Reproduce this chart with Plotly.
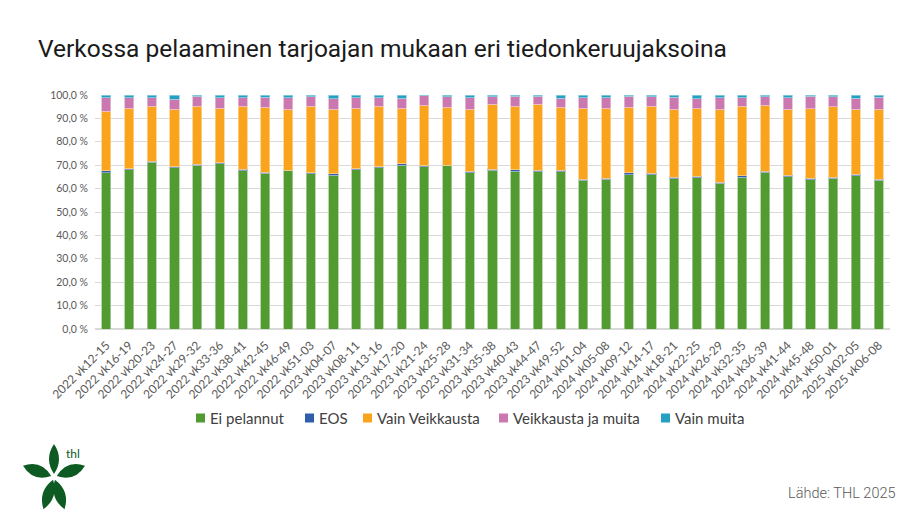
import plotly.graph_objects as go
import math

categories = [
    "2022 vk12-15", "2022 vk16-19", "2022 vk20-23", "2022 vk24-27", "2022 vk29-32",
    "2022 vk33-36", "2022 vk38-41", "2022 vk42-45", "2022 vk46-49", "2022 vk51-03",
    "2023 vk04-07", "2023 vk08-11", "2023 vk13-16", "2023 vk17-20", "2023 vk21-24",
    "2023 vk25-28", "2023 vk31-34", "2023 vk35-38", "2023 vk40-43", "2023 vk44-47",
    "2023 vk49-52", "2024 vk01-04", "2024 vk05-08", "2024 vk09-12", "2024 vk14-17",
    "2024 vk18-21", "2024 vk22-25", "2024 vk26-29", "2024 vk32-35", "2024 vk36-39",
    "2024 vk41-44", "2024 vk45-48", "2024 vk50-01", "2025 vk02-05", "2025 vk06-08",
]

ei_pelannut = [66.8, 68.0, 71.3, 69.0, 69.9, 70.6, 67.6, 66.5, 67.8, 66.3,
               65.7, 68.0, 68.9, 70.0, 69.3, 69.9, 66.8, 67.8, 67.5, 67.2,
               67.2, 63.6, 64.0, 65.9, 65.9, 64.3, 64.7, 62.2, 64.9, 66.9,
               65.0, 63.8, 64.4, 65.6, 63.6]
eos = [0.8, 0.4, 0.4, 0.4, 0.5, 0.4, 0.7, 0.5, 0.1, 0.4,
       0.6, 0.4, 0.5, 0.6, 0.4, 0.1, 0.6, 0.5, 0.6, 0.6,
       0.7, 0.4, 0.4, 0.9, 0.7, 0.6, 0.6, 0.5, 0.5, 0.5,
       0.7, 0.6, 0.5, 0.6, 0.4]
vain_veikkausta = [25.4, 26.0, 23.5, 24.5, 24.8, 23.4, 26.9, 27.8, 26.0, 28.5,
                   27.6, 26.0, 25.8, 23.8, 26.0, 24.8, 26.5, 27.7, 27.2, 28.2,
                   26.9, 30.4, 30.0, 28.0, 28.7, 29.1, 29.1, 31.2, 29.9, 28.2,
                   28.2, 29.7, 30.0, 27.8, 29.9]
veikkausta_ja_muita = [5.8, 4.5, 3.7, 4.3, 4.2, 4.4, 3.7, 4.2, 5.0, 4.0,
                       4.6, 4.5, 3.7, 4.2, 4.0, 4.5, 5.0, 3.3, 4.1, 3.4,
                       3.9, 4.5, 4.5, 4.6, 3.9, 5.0, 3.9, 5.0, 3.6, 3.6,
                       5.0, 5.3, 4.3, 4.7, 5.1]
vain_muita = [1.2, 1.1, 1.1, 1.8, 0.6, 1.2, 1.1, 1.0, 1.1, 0.8,
              1.5, 1.1, 1.1, 1.4, 0.3, 0.7, 1.1, 0.7, 0.6, 0.6,
              1.3, 1.1, 1.1, 0.6, 0.8, 1.0, 1.7, 1.1, 1.1, 0.8,
              1.1, 0.6, 0.8, 1.3, 1.0]

series_names = ["Ei pelannut", "EOS", "Vain Veikkausta", "Veikkausta ja muita", "Vain muita"]
series_values = [ei_pelannut, eos, vain_veikkausta, veikkausta_ja_muita, vain_muita]
series_colors = ["#529B31", "#2F5EAC", "#F9A41C", "#CC78B0", "#24A1C2"]
series_edges = ["#A9CD98", "#97AED5", "#FCD18D", "#E5BBD7", "#91D0E0"]

y_ticks = [0, 10, 20, 30, 40, 50, 60, 70, 80, 90, 100]
y_ticktext = [f"{v:.1f} %".replace(".", ",") for v in y_ticks]

W, H = 920, 517
L, R, T, B = 87, 38, 87, 196
PW, PH = W - L - R, H - T - B

def px2paper(px, py):
    return (px - L) / PW, (H - B - py) / PH

fig = go.Figure()
for name, vals, col, edge in zip(series_names, series_values, series_colors, series_edges):
    fig.add_trace(go.Bar(
        x=categories, y=vals, name=name, showlegend=False,
        marker=dict(color=col, line=dict(color=edge, width=0.8)),
    ))

shapes = []
annotations = []

# legend drawn as swatches + text
legend_left_px = [188, 297, 355, 491, 653]
legend_y_px = 410
sw = 9
for name, col, lx in zip(series_names, series_colors, legend_left_px):
    x0, y0 = px2paper(lx, legend_y_px + sw / 2)
    x1, y1 = px2paper(lx + sw, legend_y_px - sw / 2)
    shapes.append(dict(type="rect", xref="paper", yref="paper", x0=x0, y0=y0, x1=x1, y1=y1,
                       fillcolor=col, line=dict(width=0), layer="above"))
    tx, ty = px2paper(lx + sw + 3, legend_y_px)
    annotations.append(dict(text=name, x=tx, y=ty, xref="paper", yref="paper",
                            xanchor="left", yanchor="middle", showarrow=False,
                            font=dict(family="Lato, sans-serif", size=15, color="#404040")))

# THL logo leaves
cx, cy = 46, 469
leaf_col = "#0D5A22"
for ang_deg, length, width in [(90, 30, 10), (160, 30, 12), (20, 30, 12), (252, 31, 11), (288, 31, 11)]:
    a = math.radians(ang_deg)
    dx, dy = math.cos(a), -math.sin(a)
    nx, ny = -dy, dx
    bx, by = cx + dx * 3, cy + dy * 3
    tx, ty = cx + dx * (3 + length), cy + dy * (3 + length)
    mx, my = (bx + tx) / 2, (by + ty) / 2
    c1 = (mx + nx * width, my + ny * width)
    c2 = (mx - nx * width, my - ny * width)
    p = [px2paper(bx, by), px2paper(*c1), px2paper(tx, ty), px2paper(*c2)]
    path = (f"M {p[0][0]:.5f},{p[0][1]:.5f} Q {p[1][0]:.5f},{p[1][1]:.5f} {p[2][0]:.5f},{p[2][1]:.5f} "
            f"Q {p[3][0]:.5f},{p[3][1]:.5f} {p[0][0]:.5f},{p[0][1]:.5f} Z")
    shapes.append(dict(type="path", path=path, xref="paper", yref="paper",
                       fillcolor=leaf_col, line=dict(width=0), layer="above"))

thl_x, thl_y = px2paper(56, 445)
annotations.append(dict(text="thl", x=thl_x, y=thl_y, xref="paper", yref="paper",
                        xanchor="left", yanchor="middle", showarrow=False,
                        font=dict(family="Lato, sans-serif", size=12, color="#0D5A22")))
src_x, src_y = px2paper(890, 485)
annotations.append(dict(text="Lähde: THL 2025", x=src_x, y=src_y, xref="paper", yref="paper",
                        xanchor="right", yanchor="middle", showarrow=False,
                        font=dict(family="Roboto, sans-serif", size=14.5, color="#595959", weight=300)))

fig.update_layout(
    width=W, height=H,
    margin=dict(l=L, r=R, t=T, b=B, autoexpand=False),
    paper_bgcolor="white", plot_bgcolor="white",
    barmode="stack", bargap=0.6,
    showlegend=False,
    font=dict(family="Lato, sans-serif", color="#595959"),
    title=dict(text="Verkossa pelaaminen tarjoajan mukaan eri tiedonkeruujaksoina",
               x=30 / W, xref="container", xanchor="left",
               y=1 - 40 / H, yref="container", yanchor="middle",
               font=dict(family="Roboto, sans-serif", size=24.5, color="#1A1A1A")),
    xaxis=dict(tickangle=-45, tickfont=dict(size=12, color="#595959"),
               showgrid=False, showline=False, ticks="", ticklabelstandoff=6),
    yaxis=dict(range=[0, 100], tickvals=y_ticks, ticktext=y_ticktext,
               tickfont=dict(size=10.5, color="#595959"),
               showgrid=True, gridcolor="#D9D9D9", gridwidth=1,
               zeroline=True, zerolinecolor="#D9D9D9", showline=False, ticks="",
               ticklabelstandoff=6),
    shapes=shapes,
    annotations=annotations,
)

fig.write_html("out.html")
